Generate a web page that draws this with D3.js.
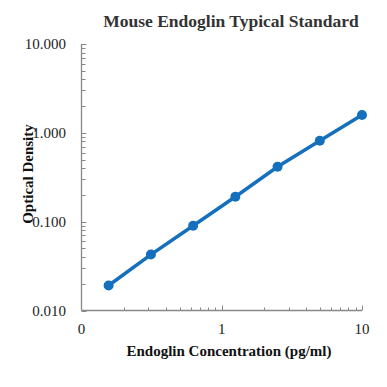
<!DOCTYPE html>
<html><head><meta charset="utf-8">
<script src="https://cdn.jsdelivr.net/npm/d3@7"></script>
<style>body{margin:0;background:#fff}svg{display:block}</style>
</head><body>
<svg id="c" width="387" height="387"></svg>
<script>
const concentrations = [0.156, 0.3125, 0.625, 1.25, 2.5, 5, 10];
const odValues = [0.0191, 0.0426, 0.090, 0.191, 0.415, 0.813, 1.59];
const yTickValues = [0.01, 0.1, 1, 10];
const yTickLabels = ["0.010", "0.100", "1.000", "10.000"];
const xTickValues = [0.1, 1, 10];
const xTickLabels = ["0", "1", "10"];
const title = "Mouse Endoglin Typical Standard";
const xTitle = "Endoglin Concentration (pg/ml)";
const yTitle = "Optical Density";

(function () {
const svg = d3.select("#c");
const pLeft = 81.5, pRight = 362, pTop = 44, pBottom = 310.5;
const x = d3.scaleLog().domain([0.1, 10]).range([pLeft, pRight]);
const y = d3.scaleLog().domain([0.01, 10]).range([pBottom, pTop]);
const axisColor = "#888";
const serif = "Liberation Serif, Times New Roman, serif";

const minorY = [], minorX = [];
for (let d = 0.01; d < 9; d *= 10) for (let k = 2; k <= 9; k++) minorY.push(d * k);
for (let d = 0.1; d < 9; d *= 10) for (let k = 2; k <= 9; k++) minorX.push(d * k);

const g = svg.append("g");
g.selectAll(".my").data(minorY).join("line")
  .attr("x1", pLeft).attr("x2", pLeft + 4)
  .attr("y1", d => Math.round(y(d)) + 0.5).attr("y2", d => Math.round(y(d)) + 0.5)
  .attr("stroke", axisColor).attr("stroke-width", 1);
g.selectAll(".My").data(yTickValues).join("line")
  .attr("x1", pLeft).attr("x2", pLeft + 5)
  .attr("y1", d => Math.round(y(d)) + 0.5).attr("y2", d => Math.round(y(d)) + 0.5)
  .attr("stroke", axisColor).attr("stroke-width", 1);
g.selectAll(".mx").data(minorX).join("line")
  .attr("y1", pBottom).attr("y2", pBottom - 3)
  .attr("x1", d => Math.round(x(d)) + 0.5).attr("x2", d => Math.round(x(d)) + 0.5)
  .attr("stroke", axisColor).attr("stroke-width", 1);
g.selectAll(".Mx").data(xTickValues.slice(1)).join("line")
  .attr("y1", pBottom).attr("y2", pBottom - 5)
  .attr("x1", d => Math.round(x(d)) + 0.5).attr("x2", d => Math.round(x(d)) + 0.5)
  .attr("stroke", axisColor).attr("stroke-width", 1);

g.append("line").attr("x1", pLeft).attr("x2", pLeft).attr("y1", pTop).attr("y2", pBottom)
  .attr("stroke", axisColor).attr("stroke-width", 1.3);
g.append("line").attr("x1", pLeft).attr("x2", pRight).attr("y1", pBottom).attr("y2", pBottom)
  .attr("stroke", axisColor).attr("stroke-width", 1.3);

g.selectAll(".yl").data(yTickValues).join("text")
  .attr("x", 66).attr("y", d => y(d) + 5)
  .attr("text-anchor", "end").attr("font-family", serif).attr("font-size", 15)
  .attr("fill", "#222").text((d, i) => yTickLabels[i]);
g.selectAll(".xl").data(xTickValues).join("text")
  .attr("x", d => x(d)).attr("y", 334)
  .attr("text-anchor", "middle").attr("font-family", serif).attr("font-size", 15)
  .attr("fill", "#222").text((d, i) => xTickLabels[i]);

svg.append("text").attr("x", 231).attr("y", 27).attr("text-anchor", "middle")
  .attr("font-family", serif).attr("font-weight", "bold").attr("font-size", 17.5)
  .attr("fill", "#333").text(title);
svg.append("text").attr("x", 229).attr("y", 356).attr("text-anchor", "middle")
  .attr("font-family", serif).attr("font-weight", "bold").attr("font-size", 15)
  .attr("fill", "#111").text(xTitle);
svg.append("text").attr("transform", "translate(33,174) rotate(-90)").attr("text-anchor", "middle")
  .attr("font-family", serif).attr("font-weight", "bold").attr("font-size", 15)
  .attr("fill", "#111").text(yTitle);

const color = "#1470bd";
const pts = concentrations.map((c, i) => [c, odValues[i]]);
svg.append("path").datum(pts)
  .attr("d", d3.line().x(d => x(d[0])).y(d => y(d[1])))
  .attr("fill", "none").attr("stroke", color).attr("stroke-width", 3.5);
svg.selectAll(".pt").data(pts).join("circle")
  .attr("cx", d => x(d[0])).attr("cy", d => y(d[1])).attr("r", 5)
  .attr("fill", color);
})();
</script>
</body></html>
